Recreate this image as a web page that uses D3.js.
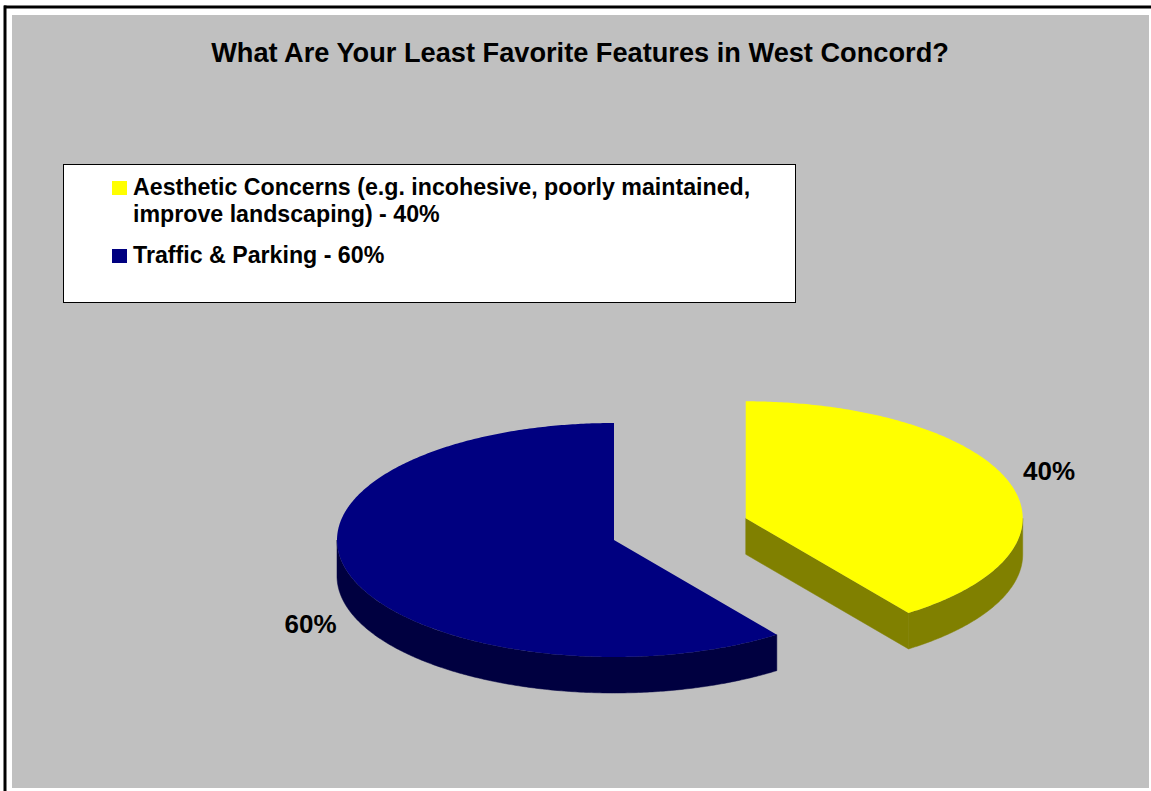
<!DOCTYPE html>
<html>
<head>
<meta charset="utf-8">
<script src="https://cdn.jsdelivr.net/npm/d3@7"></script>
<style>
  html, body { margin: 0; padding: 0; background: #fff; }
  svg { display: block; font-family: "Liberation Sans", Arial, sans-serif; }
</style>
</head>
<body>
<svg id="chart"></svg>
<script>
// chart data
const title = 'What Are Your Least Favorite Features in West Concord?';
const categories = ['Aesthetic Concerns', 'Traffic & Parking'];
const values = [40, 60];
const legendLines = [
    ['Aesthetic Concerns (e.g. incohesive, poorly maintained,', 'improve landscaping) - 40%'],
    ['Traffic & Parking - 60%']
];
const pointLabels = ['40%', '60%'];
const explode = [0.5, 0];

const W = 1151, H = 791;
const svg = d3.select('#chart').attr('width', W).attr('height', H);

// frame + plot background
svg.append('rect').attr('x', 12).attr('y', 15).attr('width', 1137).attr('height', 773).attr('fill', '#c0c0c0');
svg.append('line').attr('x1', 4).attr('x2', W).attr('y1', 7).attr('y2', 7).attr('stroke', '#000').attr('stroke-width', 3);
svg.append('line').attr('x1', 5).attr('x2', 5).attr('y1', 5.5).attr('y2', H).attr('stroke', '#000').attr('stroke-width', 3);

svg.append('text')
    .attr('x', 580).attr('y', 62)
    .attr('text-anchor', 'middle')
    .attr('font-size', 27.2).attr('font-weight', 'bold')
    .text(title);

const color = d3.scaleOrdinal().domain(categories).range(['#ffff00', '#000080']);
const sideColor = d3.scaleOrdinal().domain(categories).range(['#808000', '#000040']);

// legend
const legend = svg.append('g');
legend.append('rect')
    .attr('x', 63.5).attr('y', 164.5).attr('width', 732).attr('height', 138)
    .attr('fill', '#fff').attr('stroke', '#000');
const legendY = [195, 263];
categories.forEach((c, i) => {
    legend.append('rect')
        .attr('x', 112).attr('y', legendY[i] - 14).attr('width', 15).attr('height', 14)
        .attr('fill', color(c));
    legend.append('text')
        .attr('x', 133).attr('y', legendY[i])
        .attr('font-size', 23.2).attr('font-weight', 'bold')
        .selectAll('tspan')
        .data(legendLines[i])
        .join('tspan')
        .attr('x', 133)
        .attr('dy', (d, j) => j === 0 ? 0 : 27)
        .text(d => d);
});

// 3D pie
const cx = 614, cy = 540, rx = 277, ry = 117, depth = 36;
const pie = d3.pie().sort(null).value(d => d);
const arcs = pie(values);

const pt = (a, ox, oy, dz) => [ox + rx * Math.sin(a), oy - ry * Math.cos(a) + (dz || 0)];
const arcPts = (a0, a1, ox, oy, dz) => {
    const n = Math.max(2, Math.ceil((a1 - a0) / 0.01));
    return d3.range(n + 1).map(k => pt(a0 + (a1 - a0) * k / n, ox, oy, dz));
};
const line = d3.line();

const pieG = svg.append('g');
arcs.forEach((d, i) => {
    const mid = (d.startAngle + d.endAngle) / 2;
    const ox = cx + explode[i] * rx * Math.sin(mid);
    const oy = cy - explode[i] * ry * 1.2 * Math.cos(mid);
    const g = pieG.append('g');
    const side = sideColor(categories[i]);

    // radial faces
    [[d.startAngle, -1], [d.endAngle, 1]].forEach(([a, dir]) => {
        if (dir * Math.sin(a) > 1e-6) {
            const p = pt(a, ox, oy);
            g.append('path')
                .attr('d', line([[ox, oy], p, [p[0], p[1] + depth], [ox, oy + depth]]) + 'Z')
                .attr('fill', side).attr('stroke', side).attr('stroke-width', 0.5);
        }
    });

    // outer wall (front half only)
    const s = Math.max(d.startAngle, Math.PI / 2), e = Math.min(d.endAngle, Math.PI * 1.5);
    if (e > s) {
        const top = arcPts(s, e, ox, oy, 0);
        const bot = arcPts(s, e, ox, oy, depth).reverse();
        g.append('path')
            .attr('d', line(top.concat(bot)) + 'Z')
            .attr('fill', side).attr('stroke', side).attr('stroke-width', 0.5);
    }

    // top face
    g.append('path')
        .attr('d', line([[ox, oy]].concat(arcPts(d.startAngle, d.endAngle, ox, oy, 0))) + 'Z')
        .attr('fill', color(categories[i]));

    // data label
    const lx = ox + (rx + 42) * Math.sin(mid);
    const ly = oy - (ry + 37) * Math.cos(mid) + (Math.cos(mid) < 0 ? depth : 0);
    svg.append('text')
        .attr('x', lx).attr('y', ly)
        .attr('dy', '0.35em')
        .attr('text-anchor', 'middle')
        .attr('font-size', 26).attr('font-weight', 'bold')
        .text(pointLabels[i]);
});
</script>
</body>
</html>
